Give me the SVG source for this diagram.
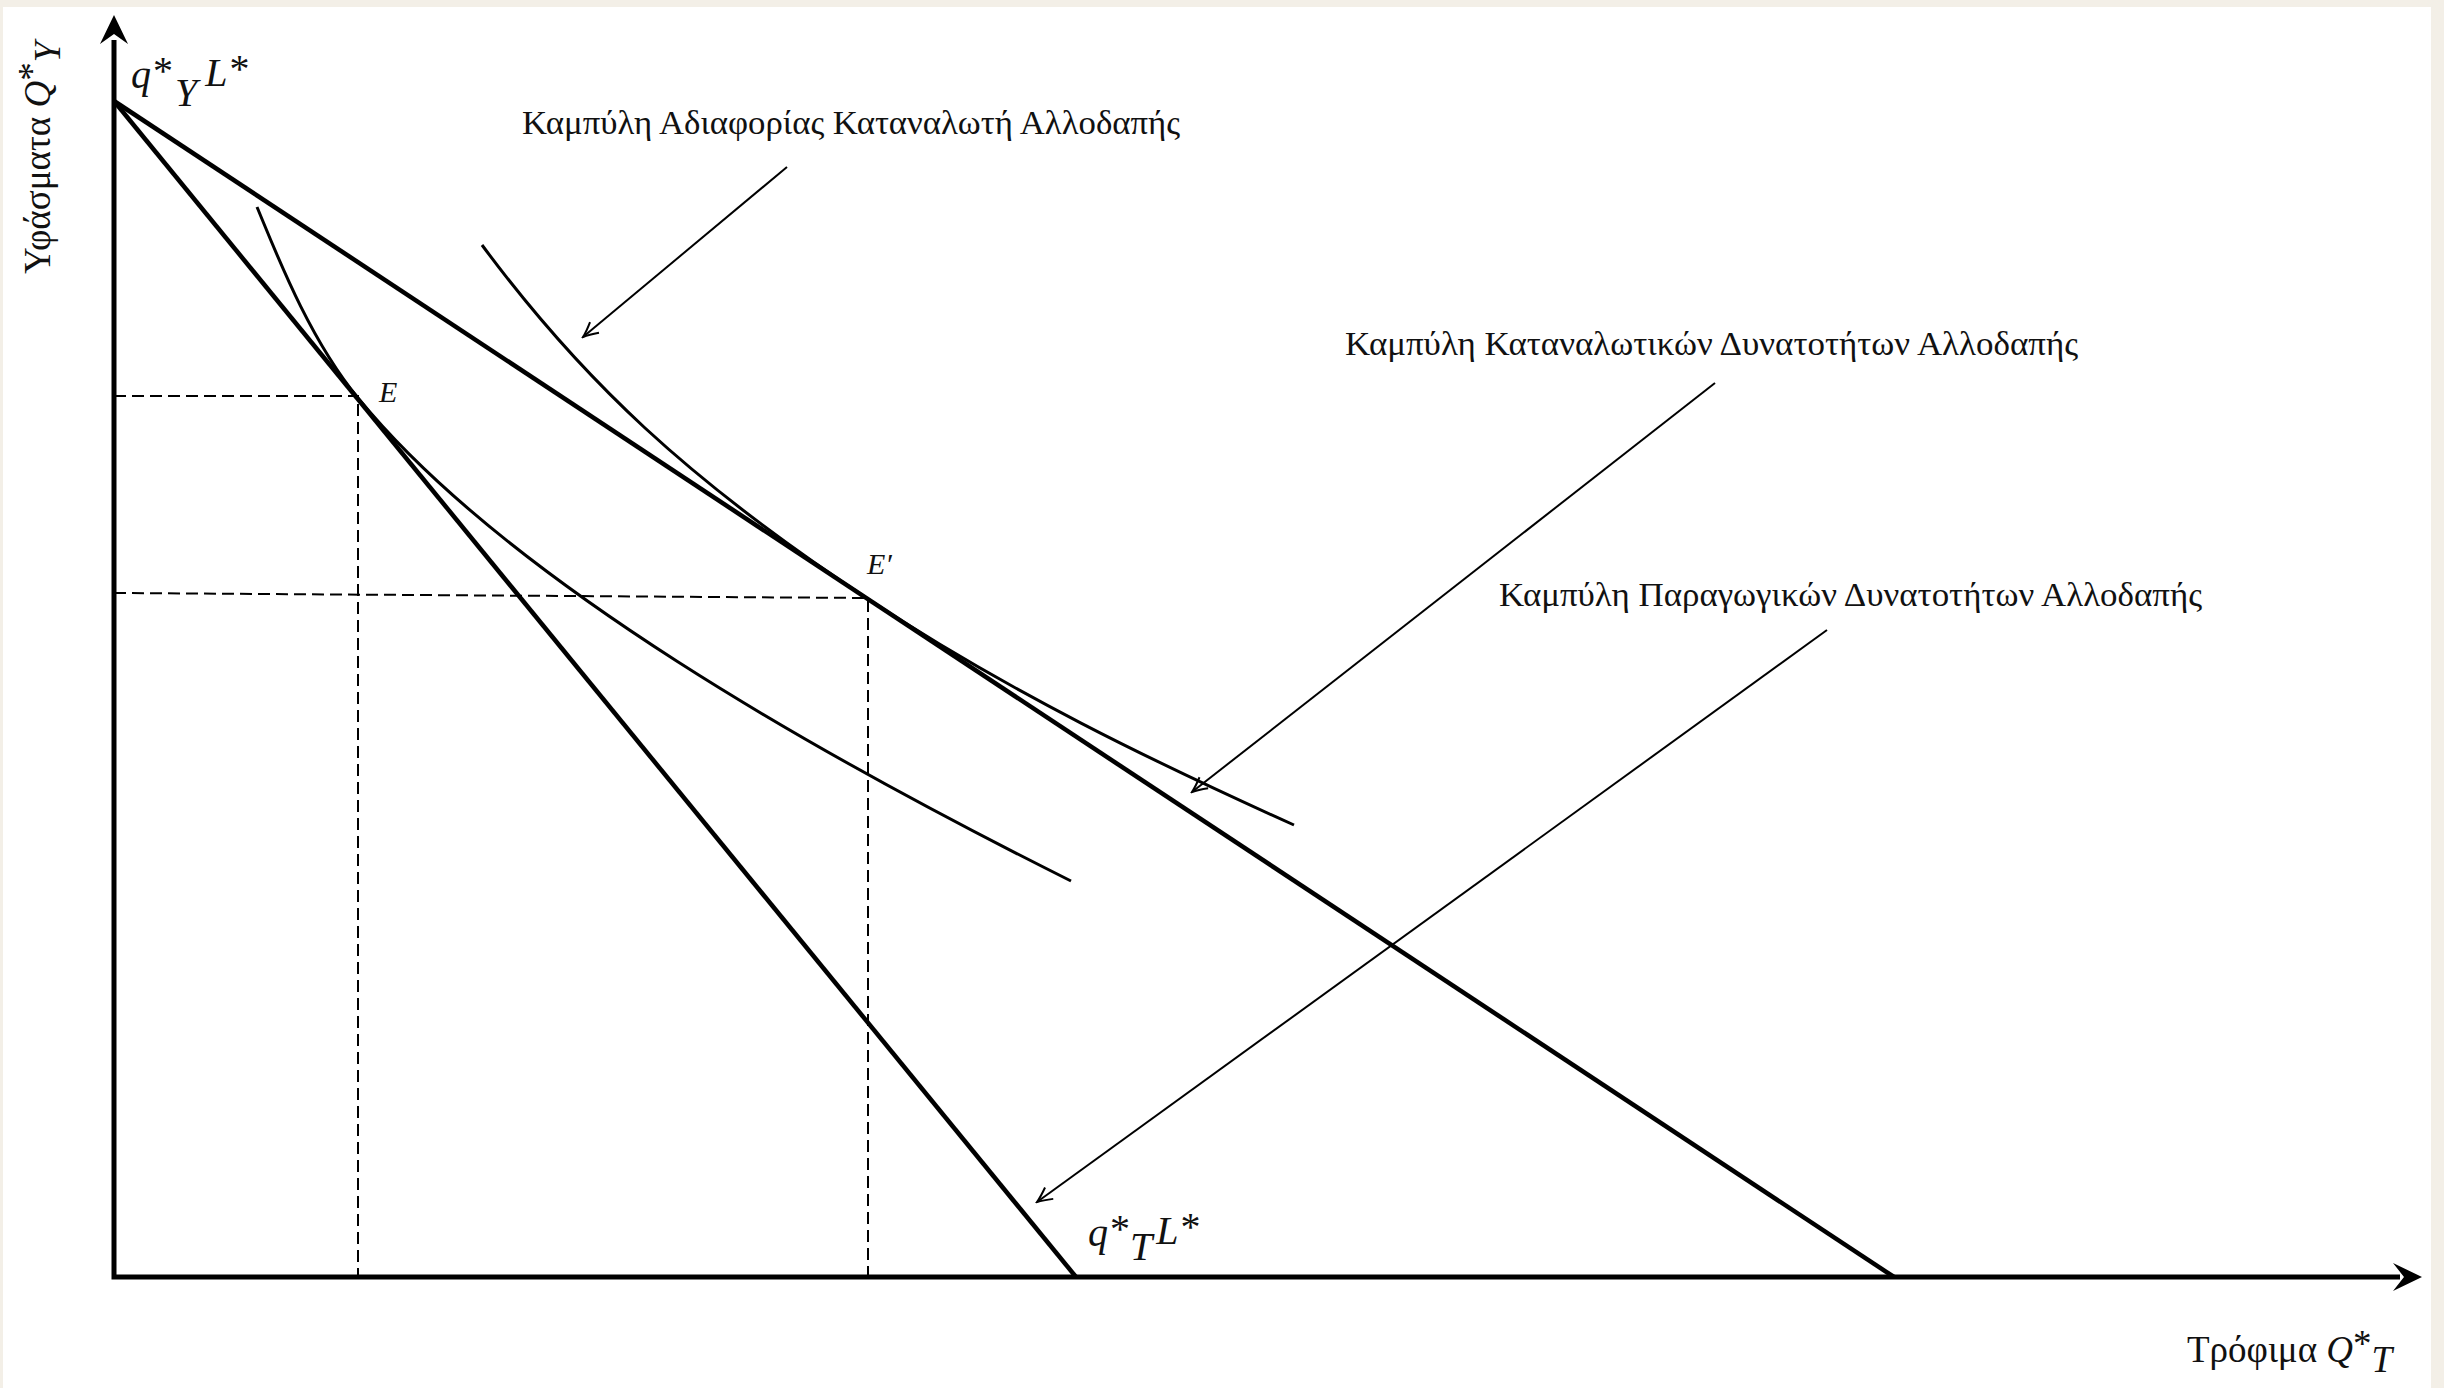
<svg xmlns="http://www.w3.org/2000/svg" width="2444" height="1388" viewBox="0 0 2444 1388">
<defs>
<style>
.serif{font-family:"Liberation Serif","Times New Roman",serif;fill:#111}
.lbl{font-size:33px}
.math{font-size:40px;font-style:italic}
.axis{stroke:#000;stroke-width:5;fill:none}
.line{stroke:#000;stroke-width:4.5;fill:none;stroke-linecap:butt}
.curve{stroke:#000;stroke-width:3;fill:none}
.dash{stroke:#000;stroke-width:2;stroke-dasharray:12 6;fill:none}
.lead{stroke:#000;stroke-width:2;fill:none}
</style>
<marker id="vhead" viewBox="-16 -9 18 18" markerWidth="18" markerHeight="18" refX="0" refY="0" orient="auto" markerUnits="userSpaceOnUse">
<path d="M-15,-7 Q-6,-2 0,0 Q-6,2 -15,7" stroke="#000" stroke-width="2" fill="none"/>
</marker>
</defs>
<rect x="0" y="0" width="2444" height="1388" fill="#f3efe7"/>
<rect x="3" y="7" width="2428" height="1381" fill="#ffffff"/>

<g id="axes">
<path class="axis" d="M114,40 V1277 H2400" stroke-linejoin="miter"/>
<path d="M114,15 L128,44 L114,34 L100,44 Z" fill="#000"/>
<path d="M2422,1277 L2393,1263 L2404,1277 L2393,1291 Z" fill="#000"/>
</g>

<g id="guides">
<path class="dash" d="M114,396 H358 V1277"/>
<path class="dash" d="M114,593 L868,598 V1277"/>
</g>

<g id="production-line">
<path class="line" d="M114,101 L1076,1277"/>
</g>
<g id="consumption-line">
<path class="line" d="M114,101 L1894,1277"/>
</g>
<g id="indifference-low">
<path class="curve" d="M257,207 C275,250 308,337 358,398 C508,581 821,756 1071,881"/>
</g>
<g id="indifference-high">
<path class="curve" d="M482,245 C582,380 688,480 868,599 C1008,691.5 1154,762 1294,825"/>
</g>

<g id="connectors">
<path class="lead" d="M787,167 L583,337" marker-end="url(#vhead)"/>
<path class="lead" d="M1715,383 L1192,792" marker-end="url(#vhead)"/>
<path class="lead" d="M1827,630 L1037,1202" marker-end="url(#vhead)"/>
</g>

<g id="label-ic">
<text class="serif lbl" x="522" y="134" textLength="658" lengthAdjust="spacingAndGlyphs">Καμπύλη Αδιαφορίας Καταναλωτή Αλλοδαπής</text>
</g>
<g id="label-cpf">
<text class="serif lbl" x="1345" y="355" textLength="733" lengthAdjust="spacingAndGlyphs">Καμπύλη Καταναλωτικών Δυνατοτήτων Αλλοδαπής</text>
</g>
<g id="label-ppf">
<text class="serif lbl" x="1499" y="606" textLength="703" lengthAdjust="spacingAndGlyphs">Καμπύλη Παραγωγικών Δυνατοτήτων Αλλοδαπής</text>
</g>

<g id="label-qy">
<text class="serif math" x="131" y="88">q<tspan font-style="normal" dx="2" dy="-4">*</tspan><tspan dx="2" dy="22">Y</tspan><tspan dx="8" dy="-20">L</tspan><tspan font-style="normal" dx="2" dy="-4">*</tspan></text>
</g>
<g id="label-qt">
<text class="serif math" x="1088" y="1246">q<tspan font-style="normal" dx="2" dy="-4">*</tspan><tspan dy="18">T</tspan><tspan dx="4" dy="-16">L</tspan><tspan font-style="normal" dx="2" dy="-4">*</tspan></text>
</g>
<g id="label-E">
<text class="serif" x="379" y="402" font-size="30" font-style="italic">E</text>
</g>
<g id="label-E2">
<text class="serif" x="867" y="574" font-size="30" font-style="italic">E′</text>
</g>

<g id="label-yaxis">
<text class="serif" transform="translate(50,274) rotate(-90)" font-size="37">Υφάσματα <tspan font-style="italic">Q</tspan><tspan dy="-6">*</tspan><tspan font-style="italic" dy="16">Y</tspan></text>
</g>
<g id="label-xaxis">
<text class="serif" x="2187" y="1362" font-size="37">Τρόφιμα <tspan font-style="italic">Q</tspan><tspan dy="-6">*</tspan><tspan font-style="italic" dy="16">T</tspan></text>
</g>
</svg>
